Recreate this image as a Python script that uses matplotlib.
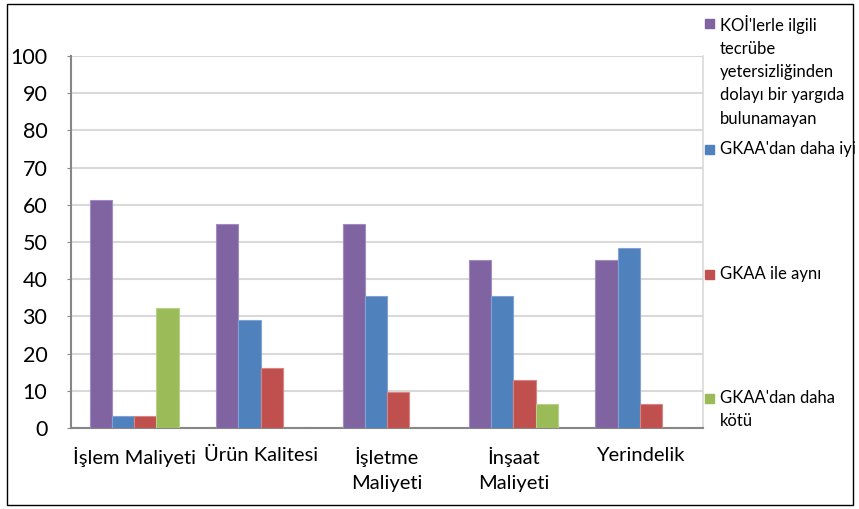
import matplotlib.pyplot as plt
import numpy as np
from matplotlib.patches import Rectangle

plt.rcParams['font.family'] = ['Lato', 'DejaVu Sans']

categories = ['İşlem Maliyeti', 'Ürün Kalitesi', 'İşletme\nMaliyeti', 'İnşaat\nMaliyeti', 'Yerindelik']
series_names = ["KOİ'lerle ilgili\ntecrübe\nyetersizliğinden\ndolayı bir yargıda\nbulunamayan",
                "GKAA'dan daha iyi",
                "GKAA ile aynı",
                "GKAA'dan daha\nkötü"]
no_judgement = [61.3, 54.8, 54.8, 45.2, 45.2]
better = [3.2, 29.0, 35.5, 35.5, 48.4]
same = [3.2, 16.1, 9.7, 12.9, 6.5]
worse = [32.3, 0, 0, 6.5, 0]
colors = ['#8064A2', '#4F81BD', '#C0504D', '#9BBB59']
edges = ['#A08CC0', '#7FA3D6', '#D98583', '#B8D18A']

fig = plt.figure(figsize=(8.59, 5.09), dpi=100)
ax = fig.add_axes([71 / 859, 1 - 428 / 509, 632 / 859, 372 / 509])

x = np.arange(len(categories))
w = 0.176
data = [no_judgement, better, same, worse]
for i, vals in enumerate(data):
    ax.bar(x + (i - 1.5) * w, vals, width=w, color=colors[i], edgecolor=edges[i], linewidth=0.8, zorder=3)

ax.set_xlim(-0.5, len(categories) - 0.5)
ax.set_ylim(0, 100)
ax.set_yticks(range(0, 101, 10))
ax.set_xticks(x)
ax.set_xticklabels(categories, fontsize=14.5, linespacing=1.6)
ax.tick_params(axis='y', labelsize=15.5, length=3, color='#868686', pad=14)
ax.tick_params(axis='x', length=0, pad=13.5)
ax.grid(axis='y', color='#D9D9D9', linewidth=1.5, zorder=0)
for s in ['left', 'bottom']:
    ax.spines[s].set_color('#868686')
    ax.spines[s].set_linewidth(1.5)
ax.spines['top'].set_visible(False)
ax.spines['right'].set_color('#D9D9D9')
ax.spines['right'].set_linewidth(1.2)

# legend, spread down the right side
leg_y = [15, 141, 266, 390]
for name, c, y in zip(series_names, colors, leg_y):
    fig.patches.append(Rectangle((705 / 859, 1 - (y + 13) / 509), 9 / 859, 9 / 509,
                                 transform=fig.transFigure, color=c))
    fig.text(720 / 859, 1 - y / 509, name, fontsize=12, va='top', ha='left', linespacing=1.55)

fig.patches.append(Rectangle((7 / 859, 4 / 509), 846 / 859, 501 / 509, transform=fig.transFigure,
                             fill=False, edgecolor='black', linewidth=1))

fig.savefig('out.png', dpi=100)
